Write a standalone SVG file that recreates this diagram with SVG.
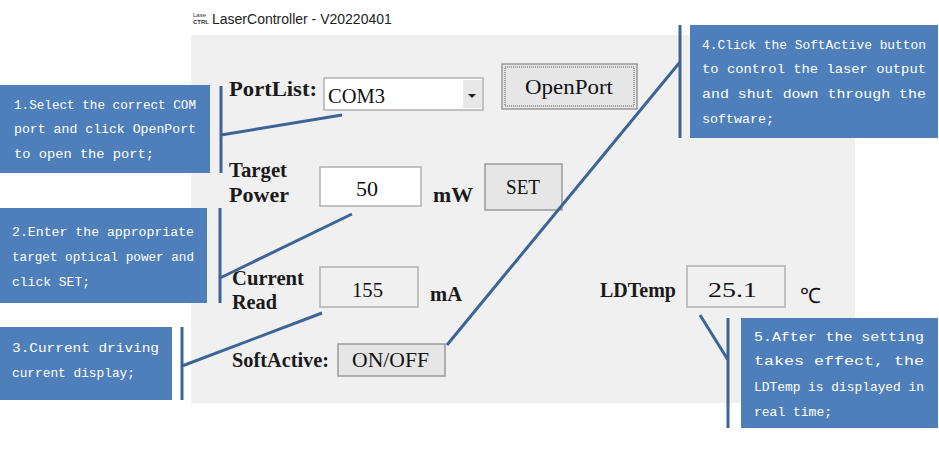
<svg xmlns="http://www.w3.org/2000/svg" width="939" height="451" viewBox="0 0 939 451">
<style>
.lbl{font-family:"Liberation Serif",serif;font-size:21px;font-weight:bold;fill:#1a1a1a}
.val{font-family:"Liberation Serif",serif;font-size:21px;fill:#111}
.box{fill:#fff;stroke:#b0b0b0;stroke-width:1.5}
.ro{fill:#f0f0f0;stroke:#b0b0b0;stroke-width:1.5}
.btn{fill:#e6e6e6;stroke:#999;stroke-width:1.5}
.call{fill:#4f7fbb}
.ct{font-family:"Liberation Mono","Noto Sans CJK SC",monospace;font-size:13px;fill:#fff}
.ln{stroke:#3d6496;stroke-width:3;fill:none}
</style>
<rect width="939" height="451" fill="#fff"/>
<g id="title">
<text x="193" y="17" font-family="Liberation Sans,sans-serif" font-size="6" fill="#333">Lase</text>
<text x="193" y="24" font-family="Liberation Sans,sans-serif" font-size="6" font-weight="bold" fill="#333">CTRL</text>
<text x="212" y="24" font-family="Liberation Sans,sans-serif" font-size="14" fill="#222">LaserController - V20220401</text>
</g>
<rect id="panel" x="191" y="35" width="664" height="368" fill="#f0f0f0"/>
<g id="portlist">
<text class="lbl" x="229" y="96" textLength="88" lengthAdjust="spacingAndGlyphs">PortList:</text>
<rect class="box" x="324" y="78" width="159" height="32"/>
<text class="val" x="328" y="103" textLength="57" lengthAdjust="spacingAndGlyphs">COM3</text>
<rect x="463" y="80" width="19" height="28" fill="#e8e8e8"/>
<path d="M468 94 h8 l-4 4z" fill="#222"/>
</g>
<g id="openport">
<rect class="btn" x="502" y="64" width="135" height="45"/>
<rect x="505" y="67" width="129" height="39" fill="none" stroke="#555" stroke-width="1" stroke-dasharray="1 1"/>
<text class="val" x="525" y="94" textLength="88" lengthAdjust="spacingAndGlyphs">OpenPort</text>
</g>
<g id="targetpower">
<text class="lbl" x="229" y="177" textLength="58" lengthAdjust="spacingAndGlyphs">Target</text>
<text class="lbl" x="229" y="202" textLength="60" lengthAdjust="spacingAndGlyphs">Power</text>
<rect class="box" x="320" y="167" width="101" height="39"/>
<text class="val" x="356" y="196" textLength="22" lengthAdjust="spacingAndGlyphs">50</text>
<text class="lbl" x="433" y="202" textLength="40" lengthAdjust="spacingAndGlyphs">mW</text>
</g>
<g id="set">
<rect class="btn" x="485" y="164" width="77" height="46"/>
<text class="val" x="506" y="194" textLength="34" lengthAdjust="spacingAndGlyphs">SET</text>
</g>
<g id="current">
<text class="lbl" x="232" y="285" textLength="72" lengthAdjust="spacingAndGlyphs">Current</text>
<text class="lbl" x="232" y="309" textLength="45" lengthAdjust="spacingAndGlyphs">Read</text>
<rect class="ro" x="320" y="267" width="98" height="40"/>
<text class="val" x="352" y="297" textLength="31" lengthAdjust="spacingAndGlyphs">155</text>
<text class="lbl" x="430" y="301" textLength="32" lengthAdjust="spacingAndGlyphs">mA</text>
</g>
<g id="ldtemp">
<text class="lbl" x="600" y="297" textLength="76" lengthAdjust="spacingAndGlyphs">LDTemp</text>
<rect class="ro" x="687" y="266" width="98" height="41"/>
<text class="val" x="708" y="297" textLength="49" lengthAdjust="spacingAndGlyphs">25.1</text>
<text class="val" x="800" y="303">℃</text>
</g>
<g id="softactive">
<text class="lbl" x="232" y="367" textLength="97" lengthAdjust="spacingAndGlyphs">SoftActive:</text>
<rect class="btn" x="338" y="344" width="107" height="32"/>
<text class="val" x="352" y="367" textLength="77" lengthAdjust="spacingAndGlyphs">ON/OFF</text>
</g>
<g id="connectors">
<path class="ln" d="M221 86 V173 M221 135 L342 115"/>
<path class="ln" d="M220 208 V303 M220 278 L352 214"/>
<path class="ln" d="M182 327 V400 M182 366 L322 313"/>
<path class="ln" d="M680 25 V138 M680 62 L447 345"/>
<path class="ln" d="M728 318 V428 M728 360 L700 315"/>
</g>
<g id="c1">
<rect class="call" x="0" y="85" width="210" height="88"/>
<text class="ct" x="14" y="109" textLength="182" lengthAdjust="spacingAndGlyphs">1.Select the correct COM</text>
<text class="ct" x="14" y="133" textLength="182" lengthAdjust="spacingAndGlyphs">port and click OpenPort</text>
<text class="ct" x="14" y="158" textLength="140" lengthAdjust="spacingAndGlyphs">to open the port;</text>
</g>
<g id="c2">
<rect class="call" x="0" y="208" width="207" height="95"/>
<text class="ct" x="12" y="236" textLength="182" lengthAdjust="spacingAndGlyphs">2.Enter the appropriate</text>
<text class="ct" x="12" y="261" textLength="182" lengthAdjust="spacingAndGlyphs">target optical power and</text>
<text class="ct" x="12" y="286" textLength="78" lengthAdjust="spacingAndGlyphs">click SET;</text>
</g>
<g id="c3">
<rect class="call" x="0" y="327" width="172" height="73"/>
<text class="ct" x="12" y="352" textLength="147" lengthAdjust="spacingAndGlyphs">3.Current  driving</text>
<text class="ct" x="12" y="377" textLength="123" lengthAdjust="spacingAndGlyphs">current display;</text>
</g>
<g id="c4">
<rect class="call" x="690" y="25" width="248" height="113"/>
<text class="ct" x="702" y="49" textLength="224" lengthAdjust="spacingAndGlyphs">4.Click the SoftActive button</text>
<text class="ct" x="702" y="73" textLength="224" lengthAdjust="spacingAndGlyphs">to control the laser output</text>
<text class="ct" x="702" y="98" textLength="224" lengthAdjust="spacingAndGlyphs">and  shut  down  through  the</text>
<text class="ct" x="702" y="123" textLength="72" lengthAdjust="spacingAndGlyphs">software;</text>
</g>
<g id="c5">
<rect class="call" x="741" y="318" width="197" height="110"/>
<text class="ct" x="754" y="341" textLength="170" lengthAdjust="spacingAndGlyphs">5.After  the  setting</text>
<text class="ct" x="754" y="365" textLength="170" lengthAdjust="spacingAndGlyphs">takes  effect,  the</text>
<text class="ct" x="754" y="391" textLength="170" lengthAdjust="spacingAndGlyphs">LDTemp is displayed in</text>
<text class="ct" x="754" y="416" textLength="78" lengthAdjust="spacingAndGlyphs">real time;</text>
</g>
</svg>
